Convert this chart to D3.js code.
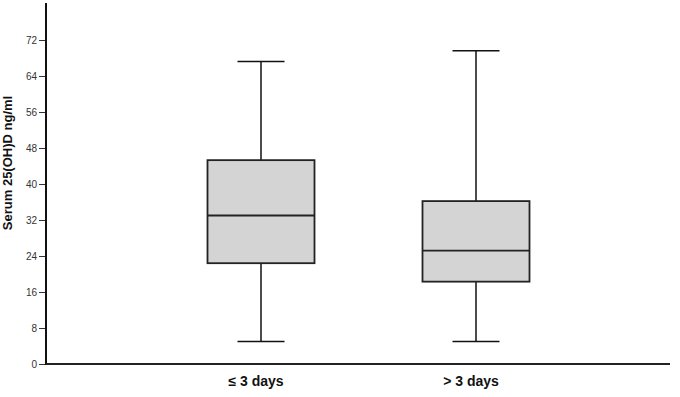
<!DOCTYPE html>
<html>
<head>
<meta charset="utf-8">
<script src="https://cdn.jsdelivr.net/npm/d3@7"></script>
<style>
  body { margin: 0; background: #fff; }
  svg { display: block; font-family: "Liberation Sans", Arial, sans-serif; }
</style>
</head>
<body>
<div id="chart"></div>
<script>
// Data
const groups = ["≤ 3 days", "> 3 days"];
const whiskerLow = [5, 5];
const q1 = [22.4, 18.3];
const median = [33, 25.2];
const q3 = [45.3, 36.2];
const whiskerHigh = [67.2, 69.6];
const yTicks = [0, 8, 16, 24, 32, 40, 48, 56, 64, 72];

const width = 680, height = 397;
const plotLeft = 46, plotBottom = 364, plotTop = 4;

const svg = d3.select("#chart")
    .append("svg")
    .attr("width", width)
    .attr("height", height);

const data = groups.map((g, i) => ({
    group: g, idx: i + 1,
    lo: whiskerLow[i], q1: q1[i], med: median[i], q3: q3[i], hi: whiskerHigh[i]
}));

// Scales
const yScale = d3.scaleLinear().domain([0, 80]).range([plotBottom, plotTop]);
const xScale = d3.scaleLinear().domain([0, 3]).range([plotLeft, 691]);
const boxW = 107, capW = 47;

// Y axis
const yAxis = d3.axisLeft(yScale)
    .tickValues(yTicks)
    .tickSize(7)
    .tickPadding(2);

const gy = svg.append("g")
    .attr("transform", `translate(${plotLeft},0)`)
    .call(yAxis);
gy.select(".domain").remove();
gy.selectAll(".tick line").attr("stroke", "#333").attr("stroke-width", 1);
gy.selectAll(".tick text")
    .attr("fill", "#333")
    .style("font-size", "10px");

svg.append("line")
    .attr("x1", plotLeft).attr("x2", plotLeft)
    .attr("y1", 3).attr("y2", plotBottom + 1)
    .attr("stroke", "#111")
    .attr("stroke-width", 2);

// X axis line
svg.append("line")
    .attr("x1", plotLeft).attr("x2", 670)
    .attr("y1", plotBottom).attr("y2", plotBottom)
    .attr("stroke", "#222")
    .attr("stroke-width", 2);

// Category labels
svg.selectAll(".xlabel")
    .data(data)
    .enter()
    .append("text")
    .attr("class", "xlabel")
    .attr("x", d => xScale(d.idx) - 5)
    .attr("y", 386)
    .attr("text-anchor", "middle")
    .style("font-size", "14px")
    .style("font-weight", "bold")
    .attr("fill", "#111")
    .text(d => d.group);

// Y title
svg.append("text")
    .attr("transform", `translate(12,${163}) rotate(-90)`)
    .attr("text-anchor", "middle")
    .style("font-size", "13px")
    .style("font-weight", "bold")
    .attr("fill", "#111")
    .text("Serum 25(OH)D ng/ml");

// Boxes
const box = svg.selectAll(".box")
    .data(data)
    .enter()
    .append("g")
    .attr("class", "box");

// whisker stems
box.append("line")
    .attr("x1", d => xScale(d.idx)).attr("x2", d => xScale(d.idx))
    .attr("y1", d => yScale(d.hi)).attr("y2", d => yScale(d.lo))
    .attr("stroke", "#111").attr("stroke-width", 1.5);

// caps
["hi", "lo"].forEach(k => {
    box.append("line")
        .attr("x1", d => xScale(d.idx) - capW / 2)
        .attr("x2", d => xScale(d.idx) + capW / 2)
        .attr("y1", d => yScale(d[k])).attr("y2", d => yScale(d[k]))
        .attr("stroke", "#111").attr("stroke-width", 1.5);
});

box.append("rect")
    .attr("x", d => xScale(d.idx) - boxW / 2)
    .attr("y", d => yScale(d.q3))
    .attr("width", boxW)
    .attr("height", d => yScale(d.q1) - yScale(d.q3))
    .attr("fill", "#d4d4d4")
    .attr("stroke", "#222")
    .attr("stroke-width", 1.8);

box.append("line")
    .attr("x1", d => xScale(d.idx) - boxW / 2)
    .attr("x2", d => xScale(d.idx) + boxW / 2)
    .attr("y1", d => yScale(d.med)).attr("y2", d => yScale(d.med))
    .attr("stroke", "#222").attr("stroke-width", 1.8);
</script>
</body>
</html>
